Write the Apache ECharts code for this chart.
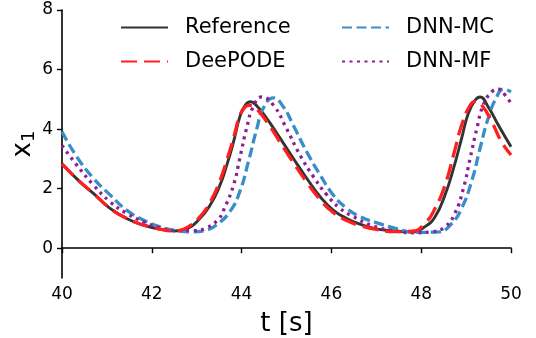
<!DOCTYPE html>
<html>
<head>
<meta charset="utf-8">
<script src="https://cdn.jsdelivr.net/npm/echarts@6/dist/echarts.min.js"></script>
<style>
  html, body { margin: 0; padding: 0; background: #fff; }
  #chart { width: 536px; height: 338px; }
</style>
</head>
<body>
<div id="chart"></div>
<script>
// ---- data ----
const xTicks = [40, 42, 44, 46, 48, 50];
const yTicks = [0, 2, 4, 6, 8];

const refT  = [40.0, 40.4, 40.7, 41.07, 41.44, 41.81, 42.18, 42.5, 42.78, 43.07, 43.3, 43.5, 43.67, 43.82, 43.96, 44.08, 44.2, 44.34, 44.56, 44.86, 45.15, 45.45, 45.75, 46.04, 46.34, 46.64, 47.0, 47.42, 47.79, 48.08, 48.31, 48.53, 48.72, 48.9, 49.05, 49.2, 49.31, 49.49, 49.72, 50.0];
const refX1 = [2.83, 2.23, 1.84, 1.34, 1.0, 0.78, 0.64, 0.58, 0.65, 1.0, 1.45, 2.05, 2.79, 3.57, 4.41, 4.8, 4.92, 4.78, 4.36, 3.69, 3.02, 2.35, 1.73, 1.28, 1.0, 0.81, 0.65, 0.58, 0.55, 0.72, 1.06, 1.79, 2.68, 3.69, 4.53, 4.97, 5.08, 4.75, 4.13, 3.41];

const deepT  = [40.0, 40.4, 40.7, 41.07, 41.44, 41.81, 42.18, 42.5, 42.78, 43.07, 43.3, 43.5, 43.67, 43.82, 43.96, 44.08, 44.17, 44.3, 44.56, 44.86, 45.15, 45.45, 45.75, 46.04, 46.34, 46.64, 47.0, 47.42, 47.79, 48.08, 48.31, 48.53, 48.72, 48.9, 49.09, 49.2, 49.35, 49.57, 49.79, 50.0];
const deepX1 = [2.83, 2.23, 1.84, 1.34, 1.0, 0.78, 0.64, 0.58, 0.69, 1.05, 1.55, 2.2, 2.95, 3.7, 4.45, 4.75, 4.8, 4.72, 4.25, 3.55, 2.88, 2.22, 1.63, 1.2, 0.93, 0.76, 0.63, 0.56, 0.57, 0.83, 1.34, 2.12, 3.13, 4.13, 4.8, 4.92, 4.8, 4.25, 3.57, 3.13];

const mcT  = [40.0, 40.33, 40.7, 41.07, 41.44, 41.81, 42.18, 42.55, 42.92, 43.22, 43.44, 43.74, 43.96, 44.15, 44.34, 44.48, 44.71, 44.93, 45.15, 45.45, 45.75, 46.04, 46.34, 46.64, 47.0, 47.42, 47.9, 48.38, 48.68, 48.9, 49.12, 49.31, 49.49, 49.68, 49.83, 50.0];
const mcX1 = [3.91, 3.07, 2.35, 1.79, 1.28, 0.95, 0.72, 0.59, 0.55, 0.61, 0.78, 1.23, 1.9, 2.9, 4.02, 4.69, 5.05, 4.75, 4.13, 3.24, 2.46, 1.79, 1.34, 1.06, 0.86, 0.67, 0.53, 0.55, 0.83, 1.34, 2.23, 3.35, 4.36, 5.08, 5.34, 5.25];

const mfT  = [40.0, 40.33, 40.7, 41.07, 41.44, 41.81, 42.18, 42.55, 42.92, 43.22, 43.48, 43.62, 43.82, 43.96, 44.11, 44.26, 44.45, 44.71, 45.0, 45.3, 45.6, 45.9, 46.19, 46.49, 46.93, 47.42, 47.85, 48.23, 48.53, 48.75, 48.94, 49.09, 49.24, 49.38, 49.57, 49.72, 49.87, 50.0];
const mfX1 = [3.45, 2.79, 2.12, 1.56, 1.17, 0.89, 0.69, 0.59, 0.59, 0.69, 0.97, 1.35, 2.12, 3.02, 4.02, 4.75, 5.08, 4.8, 4.02, 3.13, 2.4, 1.79, 1.34, 1.06, 0.75, 0.58, 0.52, 0.55, 0.72, 1.17, 2.01, 3.02, 4.02, 4.8, 5.25, 5.34, 5.14, 4.86];

const zip = (t, v) => t.map((x, i) => [x, v[i]]);

const FONT = 'DejaVu Sans';
const chart = echarts.init(document.getElementById('chart'), null, { renderer: 'canvas' });

const legendCommon = {
  orient: 'vertical',
  top: 12,
  itemWidth: 47,
  itemHeight: 14,
  itemGap: 13,
  itemStyle: { opacity: 0 },
  textStyle: { fontFamily: FONT, fontSize: 21, color: '#000', padding: [0, 0, 0, 12] }
};

chart.setOption({
  animation: false,
  backgroundColor: '#fff',
  grid: { left: 62, right: 25, top: 10, bottom: 60, containLabel: false, outerBoundsMode: 'none' },
  legend: [
    Object.assign({ left: 115, data: ['Reference', 'DeePODE'] }, legendCommon),
    Object.assign({ left: 336, data: ['DNN-MC', 'DNN-MF'] }, legendCommon)
  ],
  xAxis: {
    type: 'value', min: 40, max: 50, interval: 2,
    name: 't [s]', nameLocation: 'middle', nameGap: 33, nameMoveOverlap: false,
    nameTextStyle: { fontFamily: FONT, fontSize: 26, color: '#000' },
    axisLine: { lineStyle: { color: '#000', width: 1.6 } },
    axisTick: { length: 5, lineStyle: { color: '#000', width: 1.4 }, customValues: xTicks },
    axisLabel: { fontFamily: FONT, fontSize: 17, color: '#000', margin: 8, customValues: xTicks },
    splitLine: { show: false }
  },
  yAxis: {
    type: 'value', min: -1, max: 8,
    name: 'x{s|1}', nameLocation: 'middle', nameGap: 24, nameRotate: 90, nameMoveOverlap: false,
    nameTextStyle: { fontFamily: FONT, fontSize: 26, color: '#000',
      rich: { s: { fontFamily: FONT, fontSize: 18, color: '#000', padding: [12, 0, 0, 0] } } },
    axisLine: { show: true, lineStyle: { color: '#000', width: 1.6 } },
    axisTick: { show: true, length: 5, lineStyle: { color: '#000', width: 1.4 }, customValues: yTicks },
    axisLabel: { fontFamily: FONT, fontSize: 17, color: '#000', margin: 9, customValues: yTicks },
    splitLine: { show: false }
  },
  series: [
    { name: 'Reference', type: 'line', data: zip(refT, refX1), symbol: 'none', smooth: 0.5,
      lineStyle: { color: '#333333', width: 2.9, type: 'solid' }, itemStyle: { color: '#333333' }, z: 2 },
    { name: 'DeePODE', type: 'line', data: zip(deepT, deepX1), symbol: 'none', smooth: 0.5,
      lineStyle: { color: '#ff1f1f', width: 3.3, type: [16, 7] }, itemStyle: { color: '#ff1f1f' }, z: 3 },
    { name: 'DNN-MC', type: 'line', data: zip(mcT, mcX1), symbol: 'none', smooth: 0.5,
      lineStyle: { color: '#3a8ec8', width: 3.3, type: [10, 4.5] }, itemStyle: { color: '#3a8ec8' }, z: 2 },
    { name: 'DNN-MF', type: 'line', data: zip(mfT, mfX1), symbol: 'none', smooth: 0.5,
      lineStyle: { color: '#8e1e96', width: 3.3, type: [3, 4.5] }, itemStyle: { color: '#8e1e96' }, z: 2 }
  ]
});
</script>
</body>
</html>
